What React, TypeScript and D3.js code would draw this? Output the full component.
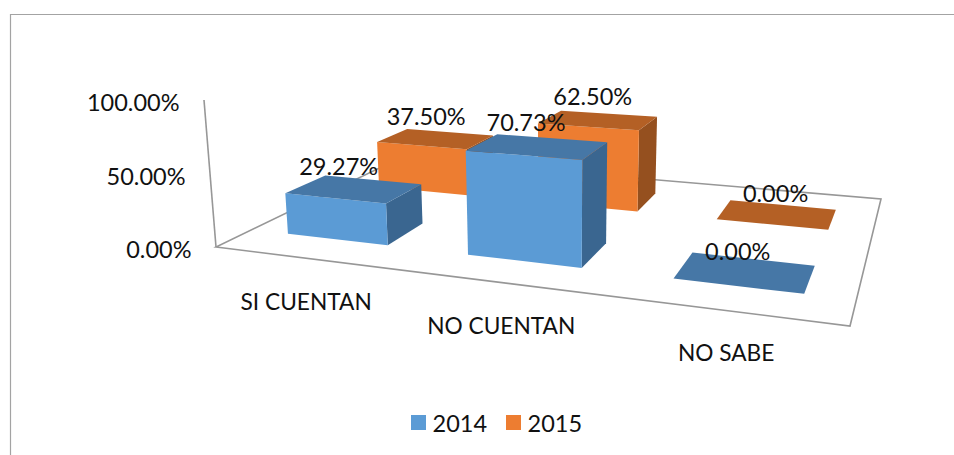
import React from "react";
import * as d3 from "d3";

const categories = ["SI CUENTAN", "NO CUENTAN", "NO SABE"];
const seriesNames = ["2014", "2015"];
const values2014 = [29.27, 70.73, 0];
const values2015 = [37.5, 62.5, 0];
const tickValues = [0, 50, 100];

const WIDTH = 954;
const HEIGHT = 455;
const FONT = "Lato, Carlito, sans-serif";
const TEXT = "#111";
const GRID = "#979797";

// Floor corners on screen: front-left, front-right, back-right, back-left
const [x0, y0] = [216, 247];
const [x1, y1] = [850, 326];
const [x2, y2] = [881, 199];
const [x3, y3] = [400, 158];

const dx1 = x1 - x2, dx2 = x3 - x2, sx = x0 - x1 + x2 - x3;
const dy1 = y1 - y2, dy2 = y3 - y2, sy = y0 - y1 + y2 - y3;
const den = dx1 * dy2 - dx2 * dy1;
const g = (sx * dy2 - dx2 * sy) / den;
const h = (dx1 * sy - sx * dy1) / den;
const a = x1 - x0 + g * x1, b = x3 - x0 + h * x3;
const d = y1 - y0 + g * y1, e = y3 - y0 + h * y3;

const barScale = d3.scaleLinear().domain([0, 100]).range([0, 143]);
const wallScale = d3.scaleLinear().domain([0, 100]).range([0, 147]);
const catBand = d3.scaleBand<number>().domain([0, 1, 2]).range([0, 1]);
const BAR_W = 0.19;
const depthExtent = 0.197;

type Pt = [number, number];
function project(u: number, v: number, lift: number): Pt {
  const w = 1 + g * u + h * v;
  const x = (a * u + b * v + x0) / w;
  const y = (d * u + e * v + y0) / w;
  const up = lift / w;
  return [x + up * (x - 560) * 0.00024, y - up];
}

const poly = (pts: Pt[]) => d3.line()(pts)! + "Z";

const palette = [
  { front: "#5B9BD5", top: "#4677A6", side: "#3A6690" },
  { front: "#ED7D31", top: "#B46025", side: "#95501F" },
];

function Bar({ cat, ser, value }: { cat: number; ser: number; value: number }) {
  const uc = catBand(cat)! + catBand.bandwidth() / 2;
  const u0 = uc - BAR_W / 2, u1 = uc + BAR_W / 2;
  const v0 = ser === 0 ? 0.155 : 0.65;
  const v1 = v0 + depthExtent;
  const z = barScale(value);
  const c = palette[ser];
  const topFace: Pt[] = [project(u0, v0, z), project(u1, v0, z), project(u1, v1, z), project(u0, v1, z)];
  if (value === 0) return <path d={poly(topFace)} fill={c.top} />;
  return (
    <g>
      <path d={poly([project(u1, v0, 0), project(u1, v1, 0), project(u1, v1, z), project(u1, v0, z)])} fill={c.side} />
      <path d={poly([project(u0, v0, 0), project(u1, v0, 0), project(u1, v0, z), project(u0, v0, z)])} fill={c.front} />
      <path d={poly(topFace)} fill={c.top} />
    </g>
  );
}

function BarLabel({ cat, ser, value }: { cat: number; ser: number; value: number }) {
  const uc = catBand(cat)! + catBand.bandwidth() / 2;
  const v0 = ser === 0 ? 0.155 : 0.65;
  const [x, y] = project(uc, v0 + depthExtent / 2, barScale(value));
  const lx = x - 17.5 + 12 * uc + 6 * ser;
  const ly = y - 21 - value * 0.05;
  return (
    <text x={lx} y={ly} textAnchor="middle" dominantBaseline="central" fontFamily={FONT} fontSize={23.5} fill={TEXT}>
      {d3.format(".2f")(value)}%
    </text>
  );
}

export default function App() {
  const series = [values2014, values2015];
  const floor: Pt[] = [project(0, 0, 0), project(1, 0, 0), project(1, 1, 0), project(0, 1, 0)];
  const wallTop: Pt = [x0 - 12, y0 - wallScale(100)];
  return (
    <svg width={WIDTH} height={HEIGHT} style={{ position: "absolute", left: 0, top: 0, display: "block" }}>
      <rect width={WIDTH} height={HEIGHT} fill="#fff" />
      <path d="M10.5,455V14.5H954" fill="none" stroke="#a3a3a3" strokeWidth={1.2} />

      <path d={poly(floor)} fill="none" stroke={GRID} strokeWidth={1.6} />
      <line x1={x0} y1={y0} x2={wallTop[0]} y2={wallTop[1]} stroke={GRID} strokeWidth={1.6} />

      {tickValues.map((t) => {
        const frac = t / 100;
        return (
          <text
            key={t}
            x={x0 - 12 * frac - 24.5}
            y={y0 - wallScale(t) + 2}
            textAnchor="end"
            dominantBaseline="central"
            fontFamily={FONT}
            fontSize={23.5}
            fill={TEXT}
          >
            {d3.format(".2f")(t)}%
          </text>
        );
      })}

      {values2015.map((v, i) => <Bar key={"o" + i} cat={i} ser={1} value={v} />)}
      {values2014.map((v, i) => <Bar key={"b" + i} cat={i} ser={0} value={v} />)}

      {series.map((vals, s) => vals.map((v, i) => <BarLabel key={s + "-" + i} cat={i} ser={s} value={v} />))}

      {categories.map((c, i) => {
        const [x, y] = project(catBand(i)! + catBand.bandwidth() / 2, 0, 0);
        return (
          <text key={c} x={x + 2} y={y + 44 - i} textAnchor="middle" dominantBaseline="central" fontFamily={FONT} fontSize={22.7} fill={TEXT}>
            {c}
          </text>
        );
      })}

      {seriesNames.map((n, i) => {
        const lx = 411 + i * 95;
        return (
          <g key={n}>
            <rect x={lx} y={415} width={15} height={15} fill={palette[i].front} />
            <text x={lx + 21.5} y={422.5} dominantBaseline="central" fontFamily={FONT} fontSize={23.5} fill={TEXT}>
              {n}
            </text>
          </g>
        );
      })}
    </svg>
  );
}
